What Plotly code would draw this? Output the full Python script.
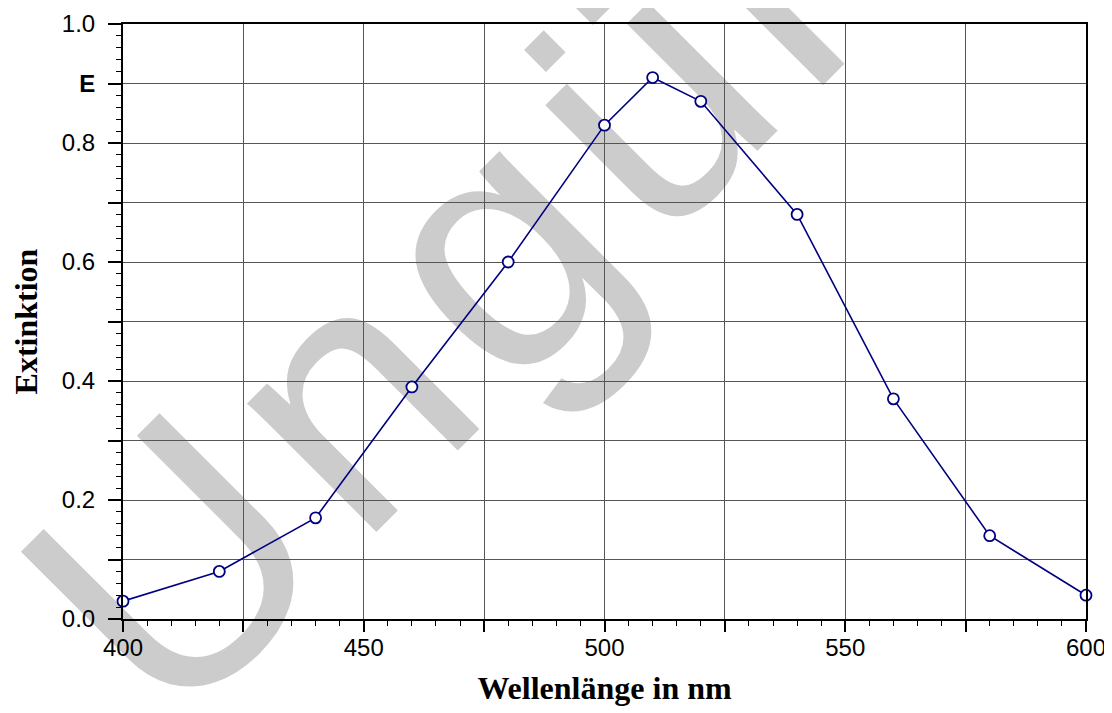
import plotly.graph_objects as go

wavelength = [400, 420, 440, 460, 480, 500, 510, 520, 540, 560, 580, 600]
extinction = [0.03, 0.08, 0.17, 0.39, 0.60, 0.83, 0.91, 0.87, 0.68, 0.37, 0.14, 0.04]

x_tickvals = [400, 425, 450, 475, 500, 525, 550, 575, 600]
x_ticktext = ["400", "", "450", "", "500", "", "550", "", "600"]
y_tickvals = [0.0, 0.1, 0.2, 0.3, 0.4, 0.5, 0.6, 0.7, 0.8, 0.9, 1.0]
y_ticktext = ["0.0", "", "0.2", "", "0.4", "", "0.6", "", "0.8", "<b>E</b>", "1.0"]

watermark = "Ungültig"
spacer = '<span style="font-size:68px">\u00a0</span>'
watermark_html = spacer.join(list(watermark))

fig = go.Figure()
fig.add_trace(go.Scatter(
    x=wavelength, y=extinction, mode="lines+markers",
    line=dict(color="#000080", width=1.6),
    marker=dict(symbol="circle", size=11, color="white",
                line=dict(color="#000080", width=1.8)),
    showlegend=False, cliponaxis=False,
))

fig.add_shape(
    type="rect", xref="paper", yref="paper",
    x0=0.401, x1=0.501, y0=0.76, y1=0.86,
    line=dict(width=0), fillcolor="rgba(0,0,0,0)", layer="below",
    label=dict(text=watermark_html, textangle=-45, textposition="middle center",
               font=dict(family="Liberation Sans", size=345, color="#cccccc")),
)

axis_common = dict(
    showline=True, linecolor="black", linewidth=2, mirror=True,
    showgrid=True, gridcolor="#555555", gridwidth=1.3,
    ticks="outside", tickcolor="black", tickwidth=1.5,
    tickfont=dict(family="Liberation Sans", size=24, color="black"),
    zeroline=False, automargin=False,
)

fig.update_xaxes(
    range=[400, 600], tickmode="array", tickvals=x_tickvals, ticktext=x_ticktext,
    ticklen=11, ticklabelstandoff=-5,
    minor=dict(dtick=5, tick0=400, ticks="outside", ticklen=5, tickwidth=1.2,
               tickcolor="black", showgrid=False),
    title=dict(text="<b>Wellenlänge in nm</b>", standoff=17,
               font=dict(family="Liberation Serif", size=32, color="black")),
    **axis_common,
)
fig.update_yaxes(
    range=[0, 1.0], tickmode="array", tickvals=y_tickvals, ticktext=y_ticktext,
    ticklen=13, ticklabelstandoff=8,
    minor=dict(dtick=0.02, tick0=0, ticks="outside", ticklen=5, tickwidth=1.2,
               tickcolor="black", showgrid=False),
    title=dict(text="<b>Extinktion</b>", standoff=19,
               font=dict(family="Liberation Serif", size=32, color="black")),
    **axis_common,
)

fig.update_layout(
    width=1104, height=705,
    margin=dict(l=115, r=26, t=16, b=94),
    plot_bgcolor="rgba(0,0,0,0)", paper_bgcolor="white",
)

fig.write_html("out.html")
